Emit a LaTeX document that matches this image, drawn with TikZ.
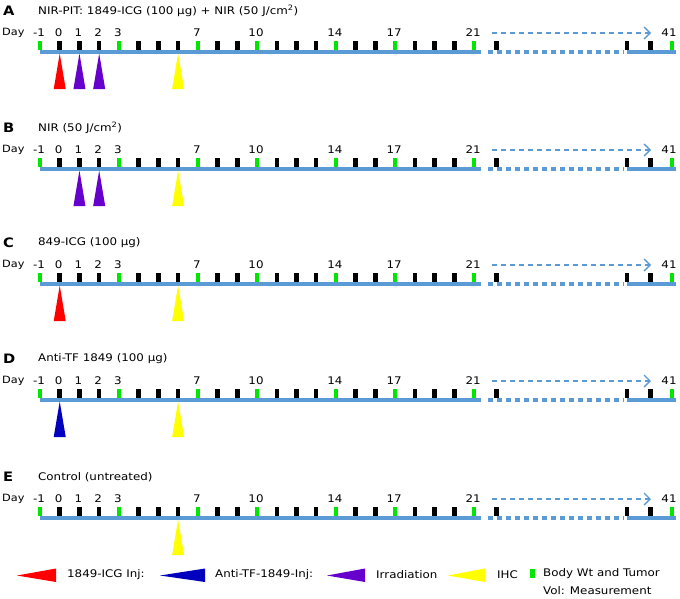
\documentclass[tikz,border=0pt]{standalone}
\usepackage{fontspec}
\setmainfont[FakeStretch=1.13]{DejaVu Sans}
\usetikzlibrary{arrows.meta}
\definecolor{tlblue}{RGB}{91,155,213}
\definecolor{tgreen}{RGB}{0,230,0}
\definecolor{tpurple}{RGB}{102,0,204}
\definecolor{tnavy}{RGB}{0,0,190}
\definecolor{tyellow}{RGB}{255,255,0}
\definecolor{tred}{RGB}{255,0,0}
\tikzset{
  basefont/.style={font=\fontsize{10.5}{12.5}\selectfont},
  letterlab/.style={anchor=west,inner sep=0pt,font=\fontsize{13}{15}\selectfont\bfseries},
  titlelab/.style={anchor=west,inner sep=0pt,basefont},
  daylab/.style={inner sep=0pt,basefont},
  blacktick/.style={rectangle,fill=black,minimum width=4.5pt,minimum height=9pt,inner sep=0pt},
  greentick/.style={rectangle,fill=tgreen,minimum width=4.5pt,minimum height=9pt,inner sep=0pt},
  mainline/.style={draw=tlblue,line width=3.5pt},
  dotline/.style={draw=tlblue,line width=3.5pt,dash pattern=on 4.5pt off 4.5pt},
  futurearrow/.style={draw=tlblue,line width=1.3pt,dash pattern=on 5pt off 4pt,-{Straight Barb[length=6pt,width=12pt,line width=1.3pt]}},
  legtext/.style={anchor=west,inner sep=0pt,basefont},
}
% #1 id, #2 line y, #3 letter, #4 title
\newcommand{\timeline}[4]{%
\begin{scope}[shift={(0,#2)}]
  \node[letterlab] (#1-letter) at (3,-41) {#3};
  \node[titlelab] (#1-title) at (38,-41) {#4};
  \node[titlelab,font=\fontsize{10}{12}\selectfont] (#1-day) at (2,-19) {Day};
  \foreach \d in {0,1,2,4,5,6,8,9,11,12,13,15,16,18,19,20}{
    \pgfmathsetmacro\xx{40+(\d+1)*19.73}
    \node[blacktick] (#1-t\d) at (\xx,-6.5) {};
  }
  \foreach \d in {-1,3,7,10,14,17,21}{
    \pgfmathsetmacro\xx{40+(\d+1)*19.73}
    \node[greentick] (#1-t\d) at (\xx,-6.5) {};
    \node[daylab] (#1-n\d) at (\xx-1,-19) {\d};
  }
  \foreach \d in {0,1,2}{
    \pgfmathsetmacro\xx{40+(\d+1)*19.73}
    \node[daylab] (#1-n\d) at (\xx-1,-19) {\d};
  }
  \node[blacktick] (#1-t22) at (496.7,-6.5) {};
  \node[blacktick] (#1-t39) at (627,-6.5) {};
  \node[blacktick] (#1-t40) at (650.5,-6.5) {};
  \node[greentick] (#1-t41) at (672,-6.5) {};
  \node[daylab] (#1-n41) at (669,-19) {41};
  \coordinate (#1-l0) at (39.5,0);
  \coordinate (#1-l1) at (481,0);
  \coordinate (#1-d0) at (488,0);
  \coordinate (#1-d1) at (624,0);
  \coordinate (#1-l2) at (627,0);
  \coordinate (#1-l3) at (676,0);
  \draw[mainline] (#1-l0) -- (#1-l1);
  \draw[dotline] (#1-d0) -- (#1-d1);
  \draw[mainline] (#1-l2) -- (#1-l3);
  \coordinate (#1-a0) at (492,-19);
  \coordinate (#1-a1) at (651,-19);
  \draw[futurearrow] (#1-a0) -- (#1-a1);
\end{scope}}
% #1 colour, #2 day, #3 line y
\newcommand{\marker}[3]{%
  \pgfmathsetmacro\xx{40+(#2+1)*19.73}
  \fill[#1] (\xx-6,#3+37) -- (\xx,#3+1.5) -- (\xx+6,#3+37) -- cycle;}
\newcommand{\legmark}[3]{% colour, apex x, base x
  \fill[#1] (#2,575.5) -- (#3,568.5) -- (#3,582) -- cycle;}
\begin{document}
\begin{tikzpicture}[x=1pt,y=-1pt]
\useasboundingbox (0,0) rectangle (680,598);
\fill[white] (0,0) rectangle (680,598);
\timeline{A}{52}{A}{NIR-PIT: 1849-ICG (100 μg) + NIR (50 J/cm\textsuperscript{2})}
\timeline{B}{169}{B}{NIR (50 J/cm\textsuperscript{2})}
\timeline{C}{284}{C}{849-ICG (100 μg)}
\timeline{D}{400}{D}{Anti-TF 1849 (100 μg)}
\timeline{E}{518}{E}{Control (untreated)}
\marker{tred}{0}{52}
\marker{tpurple}{1}{52}
\marker{tpurple}{2}{52}
\marker{tyellow}{6}{52}
\marker{tpurple}{1}{169}
\marker{tpurple}{2}{169}
\marker{tyellow}{6}{169}
\marker{tred}{0}{284}
\marker{tyellow}{6}{284}
\marker{tnavy}{0}{400}
\marker{tyellow}{6}{400}
\marker{tyellow}{6}{518}
\legmark{tred}{17}{56}
\node[legtext] (leg1) at (67,575) {1849-ICG Inj:};
\legmark{tnavy}{160}{205}
\node[legtext] (leg2) at (215,575) {Anti-TF-1849-Inj:};
\legmark{tpurple}{327}{365}
\node[legtext] (leg3) at (376,575) {Irradiation};
\legmark{tyellow}{448}{485}
\node[legtext] (leg4) at (497,575) {IHC};
\node[greentick] (leg5) at (532.5,573.5) {};
\node[legtext] (leg6) at (543,574) {Body Wt and Tumor};
\node[legtext] (leg7) at (543,591) {Vol: Measurement};
\end{tikzpicture}
\end{document}
